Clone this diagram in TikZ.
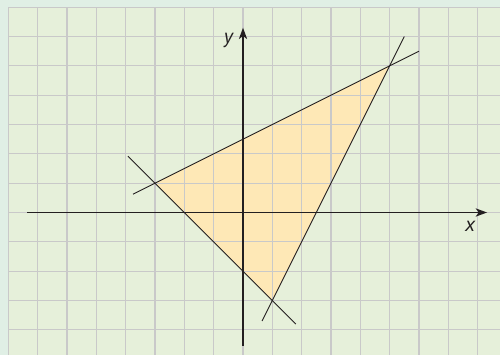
\documentclass[tikz,border=0pt]{standalone}
\usepackage{fontspec}
\setmainfont{PT Sans}
\usetikzlibrary{arrows.meta}
\definecolor{outerbg}{HTML}{E0EFE5}
\definecolor{gridbg}{HTML}{E6F0DA}
\definecolor{gridline}{HTML}{C9C9C9}
\definecolor{tri}{HTML}{FEE8B6}
\definecolor{ink}{HTML}{231F20}
\begin{document}
\begin{tikzpicture}[
  axis/.style={ink, line width=1.5pt, -{Stealth[length=11pt,width=8pt,inset=3pt]}},
  plotline/.style={ink, line width=0.9pt},
  gridstyle/.style={gridline, line width=1.25pt},
  lbl/.style={font=\fontsize{20}{20}\selectfont\itshape, text=ink, inner sep=0pt}
]
\useasboundingbox (-8.285,-4.858) rectangle (8.762,7.245);
\fill[outerbg] (-8.285,-4.858) rectangle (8.762,7.245);
\begin{scope}
\clip (-8.1,-4.858) rectangle (8.762,7.1);
\fill[gridbg] (-8,-5) rectangle (9,7);
\coordinate (A) at (-3,1);
\coordinate (B) at (5,5);
\coordinate (C) at (1,-3);
\fill[tri] (A) -- (B) -- (C) -- cycle;
\draw[gridstyle] (-8,-5) grid (9,7);
\end{scope}
% axes
\coordinate (xs) at (-7.35,0);
\coordinate (xe) at (8.32,0);
\coordinate (ys) at (0,-4.55);
\coordinate (ye) at (0,6.3);
\draw[axis] (xs) -- (xe);
\draw[axis] (ys) -- (ye);
\node[lbl] (xl) at (7.74,-0.48) {x};
\node[lbl] (yl) at (-0.5,5.88) {y};
% lines
\coordinate (L1a) at (-3.75,0.625);
\coordinate (L1b) at (6,5.5);
\coordinate (L2a) at (-3.92,1.92);
\coordinate (L2b) at (1.8,-3.8);
\coordinate (L3a) at (0.65,-3.7);
\coordinate (L3b) at (5.5,6);
\draw[plotline] (L1a) -- (L1b);
\draw[plotline] (L2a) -- (L2b);
\draw[plotline] (L3a) -- (L3b);
\end{tikzpicture}
\end{document}
